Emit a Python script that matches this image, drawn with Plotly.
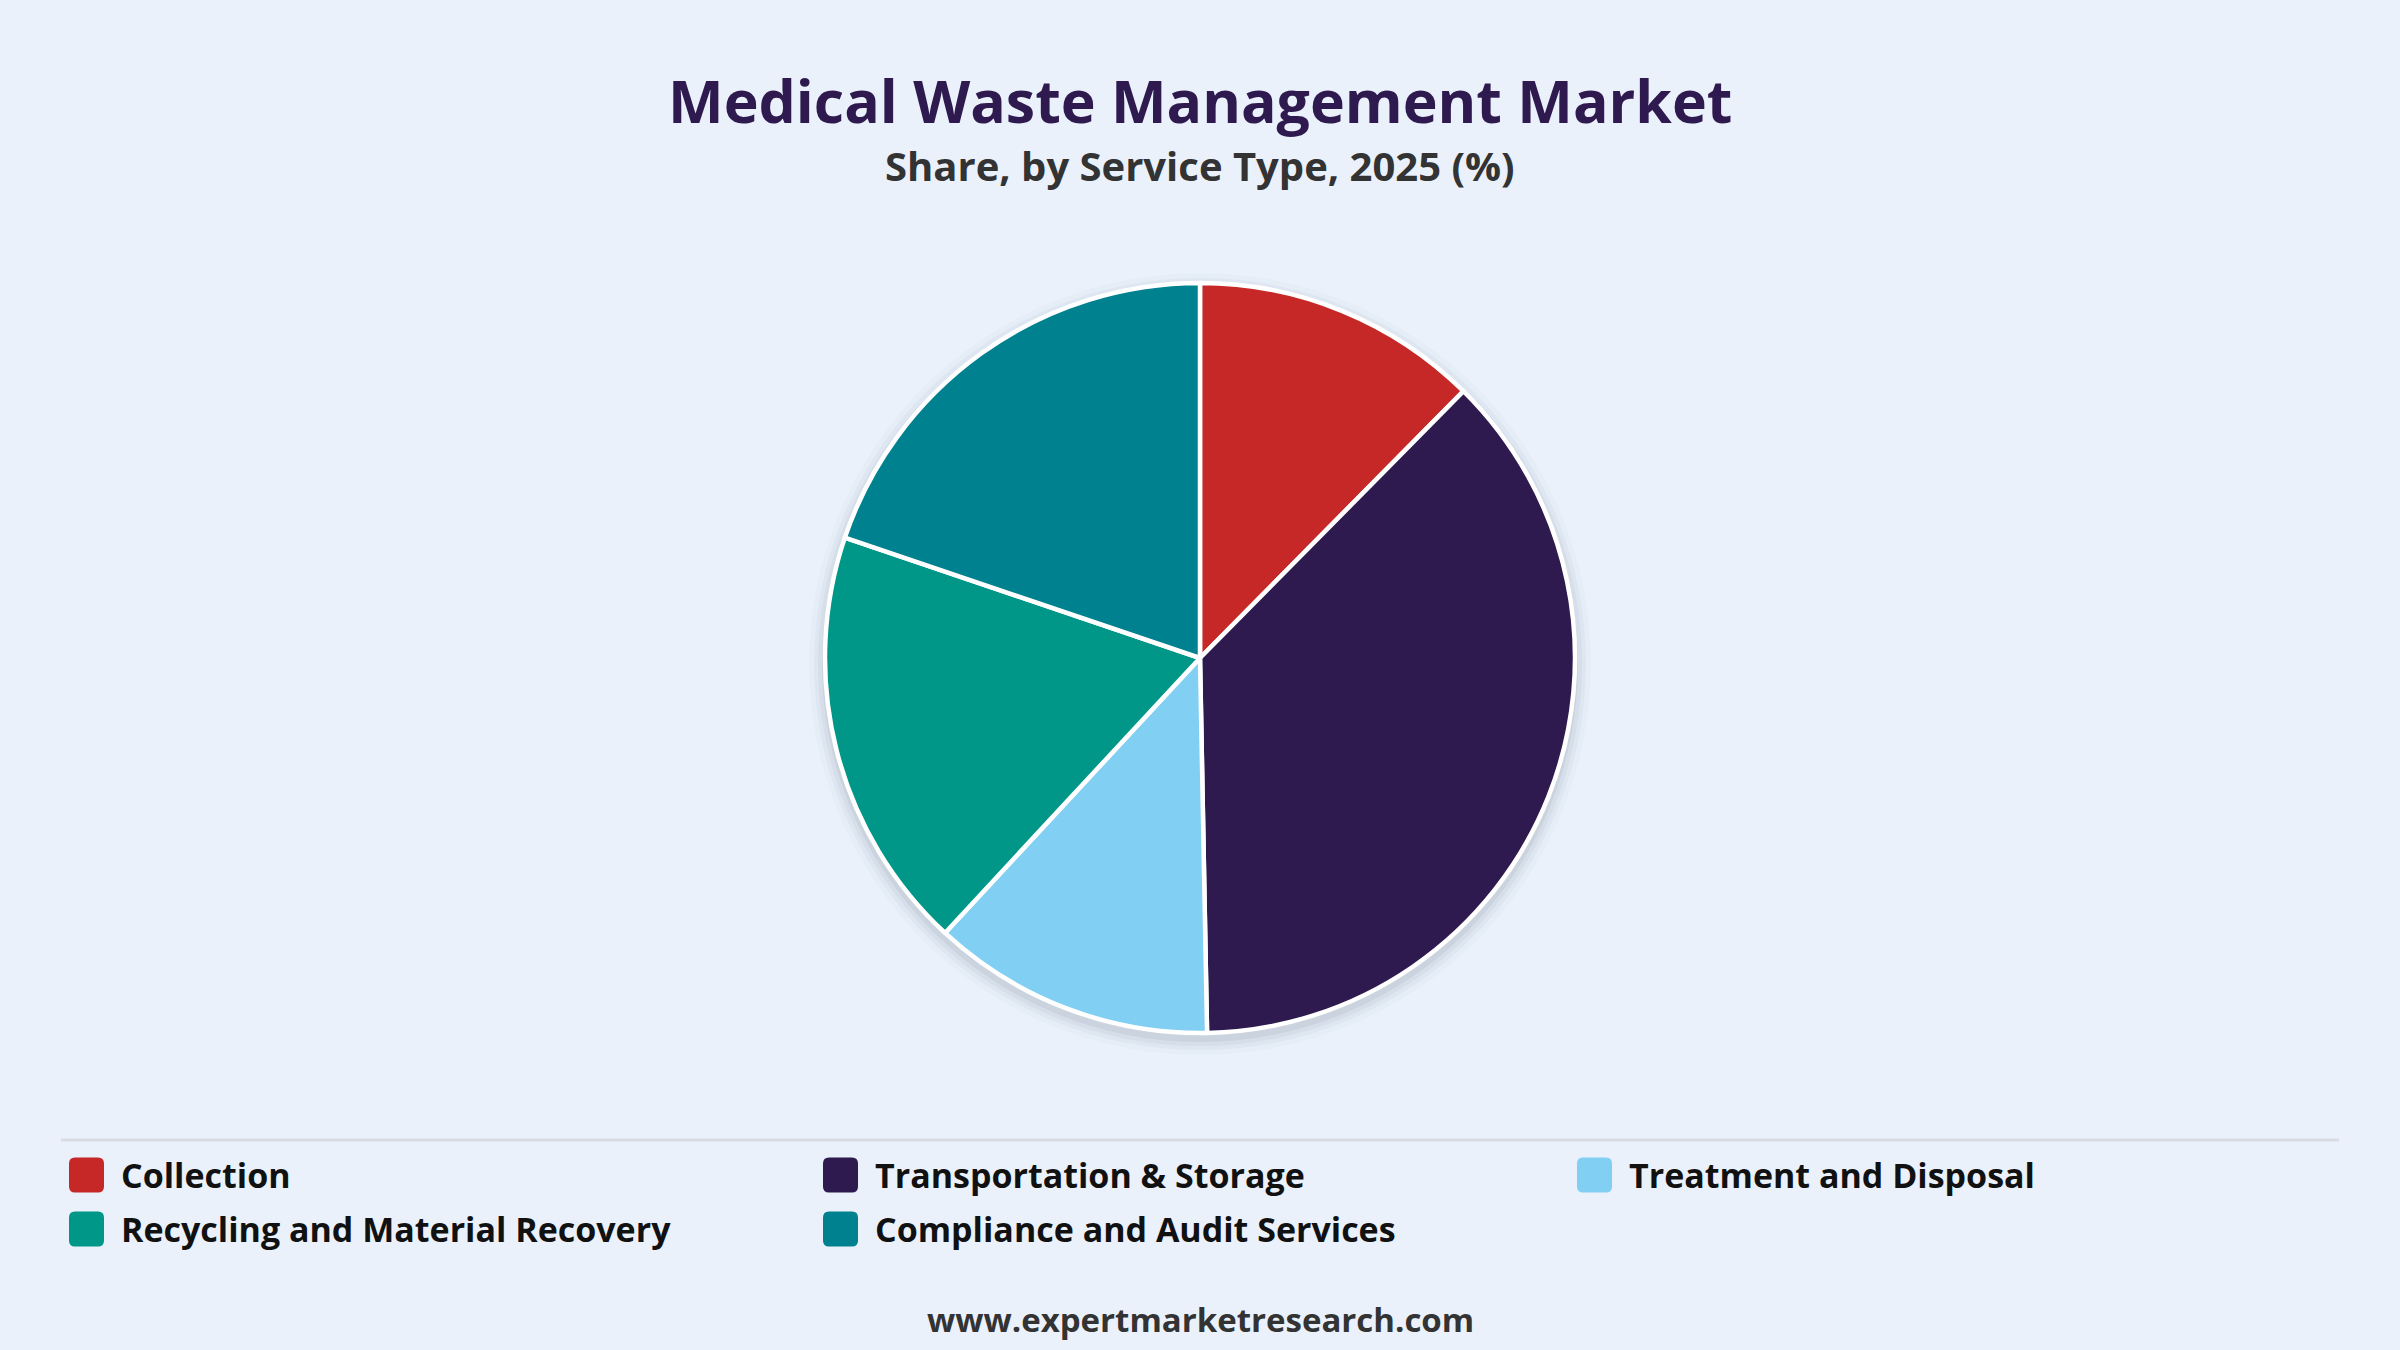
import plotly.graph_objects as go

categories = ["Collection", "Transportation & Storage", "Treatment and Disposal",
              "Recycling and Material Recovery", "Compliance and Audit Services"]
shares = [12.4, 37.3, 12.2, 18.3, 19.8]
colors = ["#C62828", "#2E1A4F", "#81CFF2", "#009688", "#00818F"]

title = "Medical Waste Management Market"
subtitle = "Share, by Service Type, 2025 (%)"
footer = "www.expertmarketresearch.com"

W, H = 2400, 1350
BG = "#EAF1FB"
FONT = "Open Sans"

fig = go.Figure()
fig.add_trace(go.Pie(
    labels=categories, values=shares, sort=False, direction="clockwise", rotation=0,
    marker=dict(colors=colors, line=dict(color="white", width=4.5)),
    textinfo="none", hoverinfo="label+percent", showlegend=False,
    domain=dict(x=[0, 1], y=[1 - 1033 / H, 1 - 283 / H]),
))

shapes = []
# soft shadow behind pie
cx, cy, r = 1200, 664, 375
for k, op in [(16, 0.025), (11, 0.035), (7, 0.05), (3, 0.07)]:
    shapes.append(dict(type="circle", xref="paper", yref="paper", layer="below",
                       x0=(cx - r - k) / W, x1=(cx + r + k) / W,
                       y0=1 - (cy + r + k) / H, y1=1 - (cy - r - k) / H,
                       fillcolor=f"rgba(60,70,90,{op})", line=dict(width=0)))
# divider line
shapes.append(dict(type="line", xref="paper", yref="paper", x0=61 / W, x1=2339 / W,
                   y0=1 - 1140 / H, y1=1 - 1140 / H, line=dict(color="#D9DDE3", width=3)))

annotations = [
    dict(text=f"<b>{title}</b>", x=0.5, y=1 - 100 / H, xref="paper", yref="paper",
         showarrow=False, font=dict(family=FONT, size=59, color="#2E1A4F", weight=800),
         yanchor="middle"),
    dict(text=f"<b>{subtitle}</b>", x=0.5, y=1 - 165 / H, xref="paper", yref="paper",
         showarrow=False, font=dict(family=FONT, size=40, color="#333333"), yanchor="middle"),
    dict(text=f"<b>{footer}</b>", x=0.5, y=1 - 1319 / H, xref="paper", yref="paper",
         showarrow=False, font=dict(family=FONT, size=33, color="#333333"), yanchor="middle"),
]

def rounded_rect(x0, y0, s, rad):
    def px(x): return x / W
    def py(y): return 1 - y / H
    x1, y1 = x0 + s, y0 + s
    return (f"M {px(x0 + rad)},{py(y0)} L {px(x1 - rad)},{py(y0)} Q {px(x1)},{py(y0)} {px(x1)},{py(y0 + rad)} "
            f"L {px(x1)},{py(y1 - rad)} Q {px(x1)},{py(y1)} {px(x1 - rad)},{py(y1)} "
            f"L {px(x0 + rad)},{py(y1)} Q {px(x0)},{py(y1)} {px(x0)},{py(y1 - rad)} "
            f"L {px(x0)},{py(y0 + rad)} Q {px(x0)},{py(y0)} {px(x0 + rad)},{py(y0)} Z")

col_x = [69, 823, 1577]
row_y = [1175, 1229]
sw = 35
for i, (cat, col) in enumerate(zip(categories, colors)):
    cxp = col_x[i % 3]
    cyp = row_y[i // 3]
    shapes.append(dict(type="path", xref="paper", yref="paper",
                       path=rounded_rect(cxp, cyp - sw / 2, sw, 6),
                       fillcolor=col, line=dict(width=0)))
    annotations.append(dict(text=f"<b>{cat}</b>", x=(cxp + sw + 15) / W, y=1 - cyp / H,
                            xref="paper", yref="paper", xanchor="left", yanchor="middle",
                            showarrow=False, font=dict(family=FONT, size=34, color="#111111")))

fig.update_layout(
    width=W, height=H, paper_bgcolor=BG, plot_bgcolor=BG,
    margin=dict(l=0, r=0, t=0, b=0),
    shapes=shapes, annotations=annotations, showlegend=False,
)
fig.write_html("out.html", config={"displayModeBar": False},
               post_script="document.body.style.margin='0';document.body.style.background='#EAF1FB';")
